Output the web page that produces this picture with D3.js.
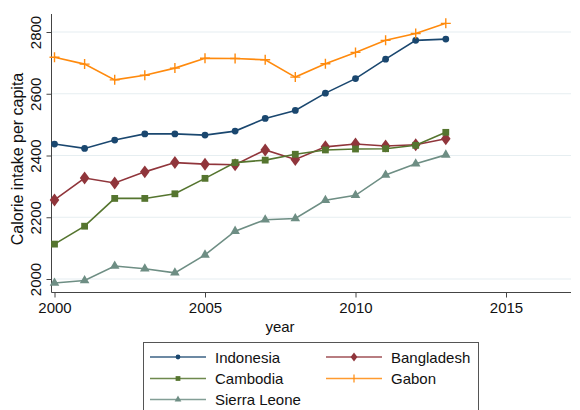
<!DOCTYPE html>
<html><head><meta charset="utf-8">
<script src="https://cdn.jsdelivr.net/npm/d3@7"></script>
<style>body{margin:0;background:#fff}svg{display:block}text{font-family:Arial,"Liberation Sans",sans-serif}</style>
</head><body><svg id="c" width="580" height="410"></svg>
<script>
const years = [2000,2001,2002,2003,2004,2005,2006,2007,2008,2009,2010,2011,2012,2013];
const indonesia = [2437,2423,2450,2470,2470,2466,2479,2520,2546,2602,2649,2712,2773,2777];
const bangladesh = [2256,2327,2311,2347,2377,2372,2370,2418,2387,2428,2437,2431,2435,2454];
const cambodia = [2113,2171,2261,2261,2276,2326,2377,2385,2404,2418,2421,2422,2433,2475];
const gabon = [2718,2696,2645,2660,2683,2715,2714,2710,2654,2697,2734,2773,2795,2828];
const sierraLeone = [1987,1995,2042,2033,2020,2078,2155,2192,2196,2255,2271,2337,2373,2402];
const xTicks = [2000,2005,2010,2015];
const yTicks = [2000,2200,2400,2600,2800];
const seriesNames = ["Indonesia","Bangladesh","Cambodia","Gabon","Sierra Leone"];
const seriesColors = ["#1a476f","#90353b","#55752f","#ff8a0d","#6e8e84"];
const seriesMarkers = ["circle","diamond","square","plus","triangle"];
const seriesValues = [indonesia,bangladesh,cambodia,gabon,sierraLeone];

const FS = 15;
const svg = d3.select("#c");
const x = d3.scaleLinear().domain([2000,2015]).range([54.5,506]);
const y = d3.scaleLinear().domain([2000,2800]).range([279,32]);
const axX = 51.5, axY = 292.5, plotRight = 571, plotTop = 14;

// gridlines
svg.append("g").selectAll("line").data(yTicks).join("line")
  .attr("x1",axX).attr("x2",plotRight).attr("y1",d=>y(d)).attr("y2",d=>y(d))
  .attr("stroke","#e6eef1").attr("stroke-width",1.2);

// y axis
const ya = svg.append("g").attr("transform",`translate(${axX},0)`)
  .call(d3.axisLeft(y).tickValues(yTicks).tickFormat(d3.format("d")).tickSize(5).tickPadding(8));
ya.attr("font-family",null).attr("font-size",null);
ya.select(".domain").attr("d",`M0,${plotTop}V${axY}`).attr("stroke","#444");
ya.selectAll(".tick line").attr("stroke","#444");
ya.selectAll(".tick text").attr("font-size",FS).attr("fill","#111")
  .attr("text-anchor","middle").attr("x",0).attr("y",0).attr("dy",null)
  .attr("transform","translate(-16,0) rotate(-90)").attr("dominant-baseline","central");

// x axis
const xa = svg.append("g").attr("transform",`translate(0,${axY})`)
  .call(d3.axisBottom(x).tickValues(xTicks).tickFormat(d3.format("d")).tickSize(5).tickPadding(5));
xa.attr("font-family",null).attr("font-size",null);
xa.select(".domain").attr("d",`M${axX},0H${plotRight}`).attr("stroke","#444");
xa.selectAll(".tick line").attr("stroke","#444");
xa.selectAll(".tick text").attr("font-size",FS).attr("fill","#111");

// axis titles
svg.append("text").attr("x",280).attr("y",332).attr("text-anchor","middle")
  .attr("font-size",FS).attr("fill","#111").text("year");
svg.append("text").attr("transform","translate(17,159) rotate(-90)").attr("text-anchor","middle")
  .attr("dominant-baseline","central").attr("font-size",16).attr("fill","#111").text("Calorie intake per capita");

function marker(g, type, color, s){
  if(type==="circle") g.append("circle").attr("r",3.4*s).attr("fill",color);
  else if(type==="diamond") g.append("path").attr("d",d3.symbol(d3.symbolDiamond,60*s*s)()).attr("fill",color).attr("transform","scale(1.15,0.9)");
  else if(type==="square") g.append("rect").attr("x",-3.4*s).attr("y",-3.4*s).attr("width",6.8*s).attr("height",6.8*s).attr("fill",color);
  else if(type==="triangle") g.append("path").attr("d",d3.symbol(d3.symbolTriangle,40*s*s)()).attr("fill",color);
  else if(type==="plus") g.append("path").attr("d",`M${-5*s},0H${5*s}M0,${-5*s}V${5*s}`).attr("stroke",color).attr("stroke-width",1.4).attr("fill","none");
}

const line = d3.line().x((d,i)=>x(years[i])).y(d=>y(d));
const plot = svg.append("g");
seriesValues.forEach((vals,k)=>{
  plot.append("path").datum(vals).attr("d",line).attr("fill","none")
    .attr("stroke",seriesColors[k]).attr("stroke-width",1.6);
  vals.forEach((v,i)=>{
    const g = plot.append("g").attr("transform",`translate(${x(years[i])},${y(v)})`);
    marker(g, seriesMarkers[k], seriesColors[k], 1);
  });
});

// legend
const lg = svg.append("g");
lg.append("rect").attr("x",143.5).attr("y",342.5).attr("width",335).attr("height",80)
  .attr("fill","#fff").attr("stroke","#555").attr("stroke-width",1);
const pos = [[150,357],[326,357],[150,378.5],[326,378.5],[150,399.5]];
seriesNames.forEach((n,k)=>{
  const [lx,ly] = pos[k];
  lg.append("line").attr("x1",lx).attr("x2",lx+56).attr("y1",ly).attr("y2",ly)
    .attr("stroke",seriesColors[k]).attr("stroke-width",1.5).attr("opacity",0.85);
  const g = lg.append("g").attr("transform",`translate(${lx+28},${ly})`);
  if(seriesMarkers[k]==="plus") g.append("path").attr("d","M0,-4V4").attr("stroke",seriesColors[k]).attr("stroke-width",1.2);
  else marker(g, seriesMarkers[k], seriesColors[k], 0.7);
  lg.append("text").attr("x",lx+65).attr("y",ly).attr("dominant-baseline","central")
    .attr("font-size",FS).attr("fill","#111").text(n);
});
</script></body></html>
